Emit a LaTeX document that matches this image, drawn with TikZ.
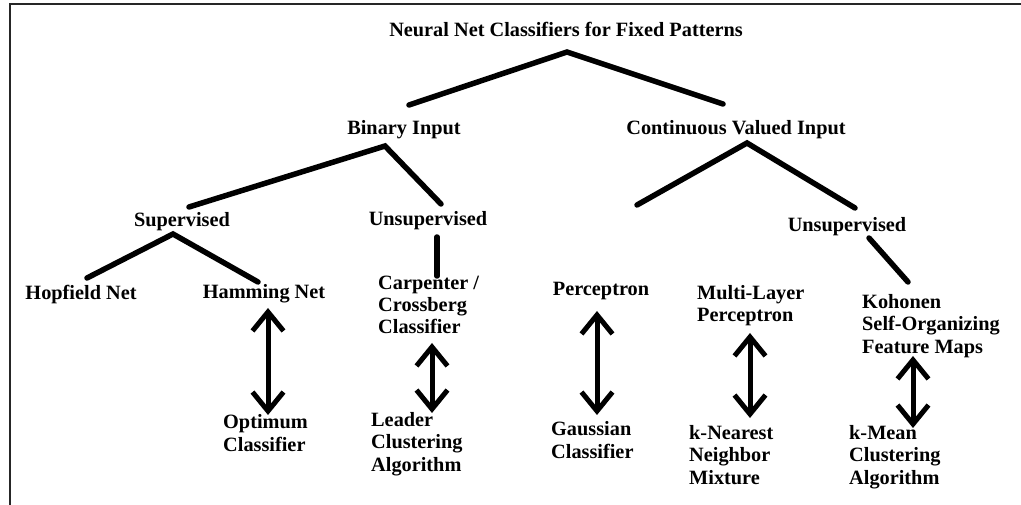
\documentclass[tikz,border=0pt]{standalone}
\usepackage{fontspec}
\setmainfont{Liberation Serif}
\usetikzlibrary{arrows.meta}
\begin{document}
\begin{tikzpicture}[x=1pt,y=-1pt,
  lbl/.style={inner sep=0pt, font=\fontsize{20.3}{22.2}\selectfont\bfseries, align=left},
  branch/.style={line width=5.5pt, line cap=round, line join=miter},
  link/.style={line width=5pt, line cap=round, line join=round,
    {Straight Barb[length=19pt,width=31pt]}-{Straight Barb[length=19pt,width=31pt]}},
  frame/.style={line width=2pt, black!85}]
\useasboundingbox (0,0) rectangle (1021,505);

% frame edges
\draw[frame] (1021,4.5) -- (9.5,4.5) -- (9.5,505);

% labels (multi-line labels are placed by the baseline of their last line)
\node[lbl, anchor=base] (root) at (566,37) {Neural Net Classifiers for Fixed Patterns};
\node[lbl, anchor=base] (bin) at (404,135) {Binary Input};
\node[lbl, anchor=base] (cont) at (736,135) {Continuous Valued Input};
\node[lbl, anchor=base] (sup) at (182,227) {Supervised};
\node[lbl, anchor=base] (unsupL) at (428,226) {Unsupervised};
\node[lbl, anchor=base] (unsupR) at (847,232) {Unsupervised};
\node[lbl, anchor=base] (hop) at (81,300) {Hopfield Net};
\node[lbl, anchor=base] (ham) at (264,299) {Hamming Net};
\node[lbl, anchor=base west] (carp) at (378,334) {Carpenter /\\Crossberg\\Classifier};
\node[lbl, anchor=base] (perc) at (601,296) {Perceptron};
\node[lbl, anchor=base west] (mlp) at (697,322) {Multi-Layer\\Perceptron};
\node[lbl, anchor=base west] (koh) at (862,353) {Kohonen\\Self-Organizing\\Feature Maps};
\node[lbl, anchor=base west] (opt) at (223,451) {Optimum\\Classifier};
\node[lbl, anchor=base west] (lead) at (371,471) {Leader\\Clustering\\Algorithm};
\node[lbl, anchor=base west] (gauss) at (551,458) {Gaussian\\Classifier};
\node[lbl, anchor=base west] (knn) at (689,484) {k-Nearest\\Neighbor\\Mixture};
\node[lbl, anchor=base west] (kmean) at (849,484) {k-Mean\\Clustering\\Algorithm};

% branch points of the tree
\coordinate (rootL) at (409,105);
\coordinate (rootA) at (567,52);
\coordinate (rootR) at (723,104);
\coordinate (binL) at (189,207);
\coordinate (binA) at (385,146);
\coordinate (binR) at (441,204);
\coordinate (contL) at (637,205);
\coordinate (contA) at (747,143);
\coordinate (contR) at (855,208);
\coordinate (supL) at (87,278);
\coordinate (supA) at (173,234);
\coordinate (supR) at (258,282);
\coordinate (unsupLtop) at (437,237);
\coordinate (unsupLbot) at (437,276);
\coordinate (unsupRtop) at (869,238);
\coordinate (unsupRbot) at (908,282);

\draw[branch] (rootL) -- (rootA) -- (rootR);
\draw[branch] (binL) -- (binA) -- (binR);
\draw[branch] (contL) -- (contA) -- (contR);
\draw[branch] (supL) -- (supA) -- (supR);
\draw[branch] (unsupLtop) -- (unsupLbot);
\draw[branch] (unsupRtop) -- (unsupRbot);

% two-way links between equivalent classifiers
\coordinate (hamT) at (268,308);
\coordinate (hamB) at (268,415);
\coordinate (carpT) at (432,343);
\coordinate (carpB) at (432,413);
\coordinate (percT) at (597,311);
\coordinate (percB) at (597,415);
\coordinate (mlpT) at (750,333);
\coordinate (mlpB) at (750,418);
\coordinate (kohT) at (913,356);
\coordinate (kohB) at (913,428);

\draw[link] (hamT) -- (hamB);
\draw[link] (carpT) -- (carpB);
\draw[link] (percT) -- (percB);
\draw[link] (mlpT) -- (mlpB);
\draw[link] (kohT) -- (kohB);
\end{tikzpicture}
\end{document}
